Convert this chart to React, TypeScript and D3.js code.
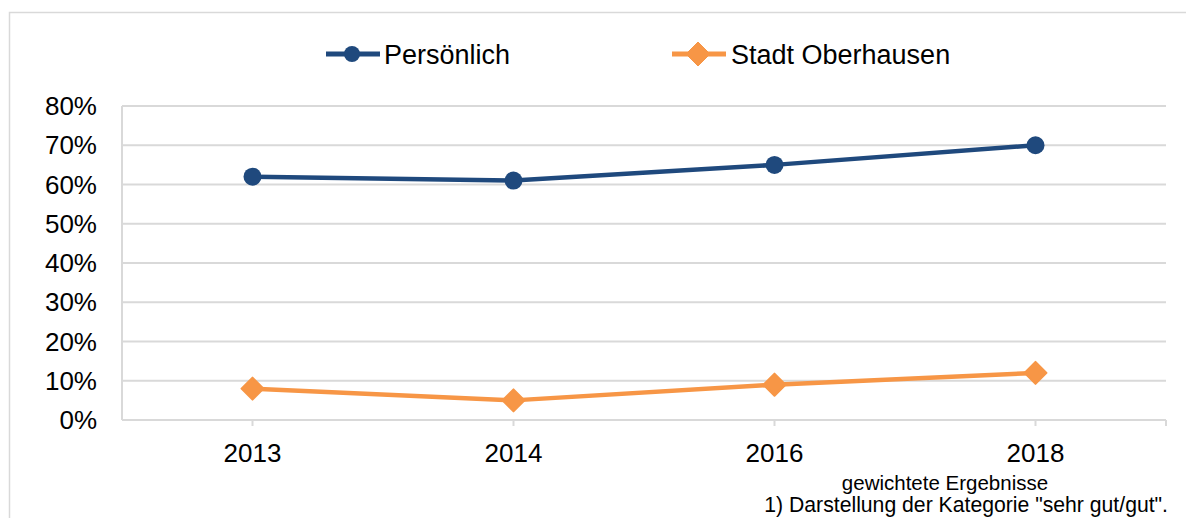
import React from 'react';
import * as d3 from 'd3';

const years = ['2013', '2014', '2016', '2018'];
const persoenlich = [62, 61, 65, 70];
const stadt = [8, 5, 9, 12];
const yTicks = [0, 10, 20, 30, 40, 50, 60, 70, 80];
const seriesNames = ['Persönlich', 'Stadt Oberhausen'];
const notes = ['gewichtete Ergebnisse', '1) Darstellung der Kategorie "sehr gut/gut".'];

const W = 1186;
const H = 518;
const navy = '#1f497d';
const orange = '#f79646';
const grid = '#d9d9d9';
const font = '"Liberation Sans", Arial, sans-serif';

const App: React.FC = () => {
	// plot area (Excel-like layout)
	const margin = { top: 106, right: 20, bottom: 98, left: 122 };
	const innerWidth = 1166 - margin.left;
	const innerHeight = 420 - margin.top;

	const x = d3.scaleBand<string>().domain(years).range([0, innerWidth]);
	const y = d3.scaleLinear().domain([0, 80]).range([innerHeight, 0]);
	const cx = (d: string) => (x(d) as number) + x.bandwidth() / 2;

	const line = d3
		.line<number>()
		.x((d, i) => cx(years[i]))
		.y((d) => y(d));

	const diamond = (s: number) => `M0,${-s}L${s},0L0,${s}L${-s},0Z`;

	return (
		<div style={{ position: 'fixed', left: 0, top: 0 }}>
			<svg width={W} height={H} style={{ display: 'block', background: '#fff' }}>
				{/* outer frame */}
				<rect x={9.5} y={12.5} width={W + 20} height={H + 20} fill="none" stroke={grid} strokeWidth={1.5} />

				{/* legend */}
				<g transform="translate(0,54)" fontFamily={font} fontSize={27}>
					<line x1={326} x2={380} y1={0} y2={0} stroke={navy} strokeWidth={5} />
					<circle cx={352} cy={0} r={8} fill={navy} />
					<text x={384} y={10} fill="#000">
						{seriesNames[0]}
					</text>
					<line x1={672} x2={726} y1={0} y2={0} stroke={orange} strokeWidth={5} />
					<path d={diamond(12)} transform="translate(698,0)" fill={orange} stroke={orange} strokeWidth={1} strokeLinejoin="round" />
					<text x={731} y={10} fill="#000">
						{seriesNames[1]}
					</text>
				</g>

				<g transform={`translate(${margin.left},${margin.top})`}>
					{/* gridlines */}
					{yTicks.map((t) => (
						<line key={t} x1={0} x2={innerWidth} y1={y(t)} y2={y(t)} stroke={grid} strokeWidth={2} />
					))}
					{/* axes */}
					<line x1={0} x2={0} y1={0} y2={innerHeight} stroke={grid} strokeWidth={2} />
					<line x1={0} x2={innerWidth} y1={innerHeight} y2={innerHeight} stroke={grid} strokeWidth={2} />
					{years.map((yr) => (
						<line key={yr} x1={cx(yr)} x2={cx(yr)} y1={innerHeight} y2={innerHeight + 6} stroke={grid} strokeWidth={2} />
					))}
					<line x1={innerWidth} x2={innerWidth} y1={innerHeight} y2={innerHeight + 6} stroke={grid} strokeWidth={2} />

					{/* tick labels */}
					{yTicks.map((t) => (
						<text key={t} x={-25} y={y(t) + 9} textAnchor="end" fontFamily={font} fontSize={26} fill="#000">
							{t + '%'}
						</text>
					))}
					{years.map((yr) => (
						<text key={yr} x={cx(yr)} y={innerHeight + 42} textAnchor="middle" fontFamily={font} fontSize={26} fill="#000">
							{yr}
						</text>
					))}

					{/* series */}
					<path d={line(persoenlich) as string} fill="none" stroke={navy} strokeWidth={4.5} strokeLinejoin="round" />
					{persoenlich.map((v, i) => (
						<circle key={i} cx={cx(years[i])} cy={y(v)} r={9} fill={navy} />
					))}
					<path d={line(stadt) as string} fill="none" stroke={orange} strokeWidth={4.5} strokeLinejoin="round" />
					{stadt.map((v, i) => (
						<path
							key={i}
							d={diamond(11)}
							transform={`translate(${cx(years[i])},${y(v)})`}
							fill={orange}
							stroke={orange}
							strokeWidth={2}
							strokeLinejoin="round"
						/>
					))}
				</g>

				{/* notes */}
				<text x={945} y={490} textAnchor="middle" fontFamily={font} fontSize={20.5} fill="#000">
					{notes[0]}
				</text>
				<text x={1168} y={512} textAnchor="end" fontFamily={font} fontSize={21.2} fill="#000">
					{notes[1]}
				</text>
			</svg>
		</div>
	);
};

export default App;
